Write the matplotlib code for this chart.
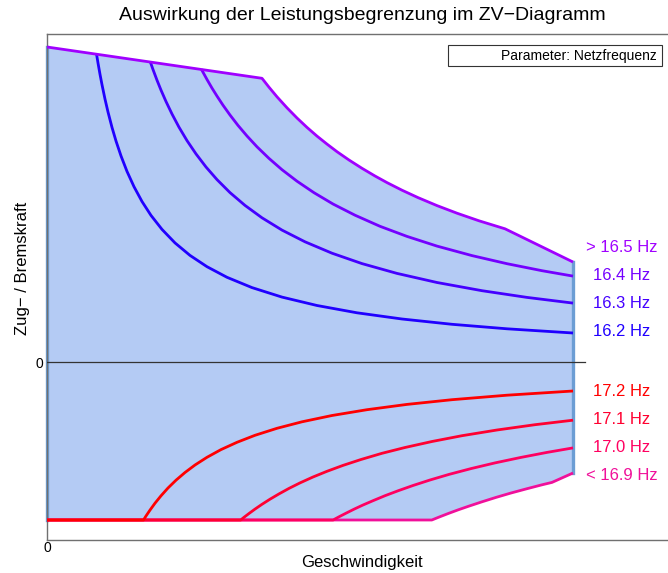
import matplotlib.pyplot as plt
import numpy as np

plt.rcParams['font.family'] = ['Liberation Sans', 'DejaVu Sans']

# Zugkraft-Grenze (obere Hüllkurve, > 16.5 Hz) -- Geschwindigkeit / Kraft in willkürlichen Einheiten
v_env = [0, 215, 222, 230, 240, 250, 260, 270, 280, 290, 302, 315, 328, 340, 355, 371, 390, 410, 432, 458, 526]
f_env = [315, 283.7, 274.8, 265.2, 254.2, 244.0, 234.6, 225.9, 217.9, 210.3, 202.0, 193.7, 186.0, 179.4,
         171.8, 164.4, 156.4, 148.8, 141.2, 133.2, 100]

v_164 = [154.4, 160, 165, 170, 176, 183, 191, 200, 210, 222, 235, 250, 267, 286, 308, 333, 360, 390, 425,
         460, 495, 526]
f_164 = [292.7, 282.5, 273.9, 265.9, 256.8, 247.0, 236.6, 226.0, 215.2, 203.6, 192.3, 180.8, 169.3, 158.0,
         146.8, 135.7, 125.6, 115.9, 106.4, 98.3, 91.3, 85.9]

v_163 = [103.3, 106, 110, 114, 119, 125, 132, 140, 149, 159, 170, 183, 198, 215, 235, 258, 285, 315, 350,
         390, 435, 480, 526]
f_163 = [300.1, 292.5, 281.8, 271.9, 260.5, 248.0, 234.8, 221.4, 208.1, 195.0, 182.4, 169.4, 156.6, 144.2,
         131.9, 120.2, 108.8, 98.4, 88.6, 79.5, 71.3, 64.6, 58.9]

v_162 = [49.5, 51, 53, 55, 58, 61, 65, 69, 74, 80, 87, 95, 104, 115, 128, 143, 160, 180, 205, 235, 270,
         310, 355, 405, 460, 526]
f_162 = [308.1, 299.0, 287.7, 277.3, 262.9, 250.0, 234.6, 221.0, 206.1, 190.6, 175.3, 160.5, 146.6, 132.6,
         119.1, 106.6, 95.3, 84.7, 74.4, 64.9, 56.5, 49.2, 43.0, 37.7, 33.2, 29.0]

# Bremskraft (untere Kurven)
v_172 = [0, 96.5, 99, 103, 108, 114, 121, 129, 138, 148, 160, 174, 190, 208, 230, 255, 285, 320, 360,
         405, 460, 526]
f_172 = [-158, -158, -154.0, -148.1, -141.2, -133.8, -126.0, -118.2, -110.5, -103.0, -95.3, -87.6, -80.3,
         -73.3, -66.3, -59.8, -53.5, -47.7, -42.4, -37.7, -33.2, -29.0]

v_171 = [0, 193.7, 197, 202, 208, 215, 223, 232, 242, 253, 266, 280, 296, 314, 335, 358, 385, 415, 450,
         488, 526]
f_171 = [-158, -158, -155.3, -151.5, -147.1, -142.3, -137.2, -131.9, -126.4, -120.9, -115.0, -109.3,
         -103.4, -97.5, -91.3, -85.5, -79.5, -73.7, -68.0, -62.7, -58.2]

v_170 = [0, 286.1, 292, 299, 307, 316, 326, 338, 351, 366, 383, 402, 424, 448, 474, 500, 526]
f_170 = [-158, -158, -154.8, -151.2, -147.2, -143.0, -138.7, -133.7, -128.8, -123.5, -118.0, -112.4,
         -106.6, -100.9, -95.4, -90.4, -85.9]

v_169 = [0, 384.8, 392, 401, 411, 422, 435, 449, 464, 480, 495, 505, 526]
f_169 = [-158, -158, -155.1, -151.6, -147.9, -144.1, -139.8, -135.4, -131.0, -126.7, -122.8, -120.4, -111]

labels_oben = ["> 16.5 Hz", "16.4 Hz", "16.3 Hz", "16.2 Hz"]
label_y_oben = [115, 87, 59, 30]
farben_oben = ['#a000ff', '#7400ff', '#4400ff', '#2000ff']

labels_unten = ["17.2 Hz", "17.1 Hz", "17.0 Hz", "< 16.9 Hz"]
label_y_unten = [-29, -58, -86, -114]
farben_unten = ['#ff0000', '#ff0030', '#ff0060', '#f0109a']

fig = plt.figure(figsize=(6.68, 5.73), dpi=100)
ax = fig.add_axes([47 / 668, 33 / 573, 621 / 668, 506 / 573])

# Füllung zwischen oberer und unterer Hüllkurve
poly_x = v_env + v_169[::-1]
poly_y = f_env + f_169[::-1]
ax.fill(poly_x, poly_y, color='#b4cbf4', lw=0, zorder=1)
ax.plot([v_env[0], v_169[0]], [f_env[0], f_169[0]], color='#6c9dd4', lw=2.4, zorder=2, clip_on=False)
ax.plot([v_env[-1], v_169[-1]], [f_env[-1], f_169[-1]], color='#6c9dd4', lw=2.4, zorder=2)

# Nulllinie
ax.axhline(0, xmin=0, xmax=538 / 621, color='#333333', lw=0.9, zorder=3)

unten = [(v_169, f_169), (v_170, f_170), (v_171, f_171), (v_172, f_172)]
for (v, f), c in zip(unten, farben_unten[::-1]):
    ax.plot(v, f, color=c, lw=2.0, zorder=4, solid_capstyle='butt', solid_joinstyle='round')

oben = [(v_162, f_162), (v_163, f_163), (v_164, f_164), (v_env, f_env)]
for (v, f), c in zip(oben, farben_oben[::-1]):
    ax.plot(v, f, color=c, lw=2.0, zorder=5, solid_capstyle='butt', solid_joinstyle='round')

for txt, y, c in zip(labels_oben + labels_unten, label_y_oben + label_y_unten, farben_oben + farben_unten):
    ax.text(575, y, txt, color=c, fontsize=12, ha='center', va='center', zorder=6)

ax.set_xlim(0, 621)
ax.set_ylim(-178, 328)
ax.set_xticks([0])
ax.set_yticks([0])
ax.tick_params(length=0, labelsize=10)
ax.tick_params(axis='x', pad=1)
ax.tick_params(axis='y', pad=3)
for s in ['left', 'top', 'bottom']:
    ax.spines[s].set_color('#707070')
    ax.spines[s].set_linewidth(1.0)
ax.spines['right'].set_visible(False)

# Legendenkasten
ax.add_patch(plt.Rectangle((0.6457, 0.9368), 0.3446, 0.0415, transform=ax.transAxes,
                           fill=False, ec='#333333', lw=0.8, zorder=7))
ax.text(0.982, 0.9575, "Parameter: Netzfrequenz", transform=ax.transAxes,
        ha='right', va='center', fontsize=10, zorder=7)

fig.text(362 / 668, 1 - 15 / 573, "Auswirkung der Leistungsbegrenzung im ZV\u2212Diagramm",
         ha='center', va='center', fontsize=14)
fig.text(362 / 668, 1 - 563 / 573, "Geschwindigkeit", ha='center', va='center', fontsize=12)
fig.text(22 / 668, 1 - 268 / 573, "Zug\u2212 / Bremskraft", ha='center', va='center',
         rotation=90, fontsize=12)

fig.savefig("out.png", dpi=100)
